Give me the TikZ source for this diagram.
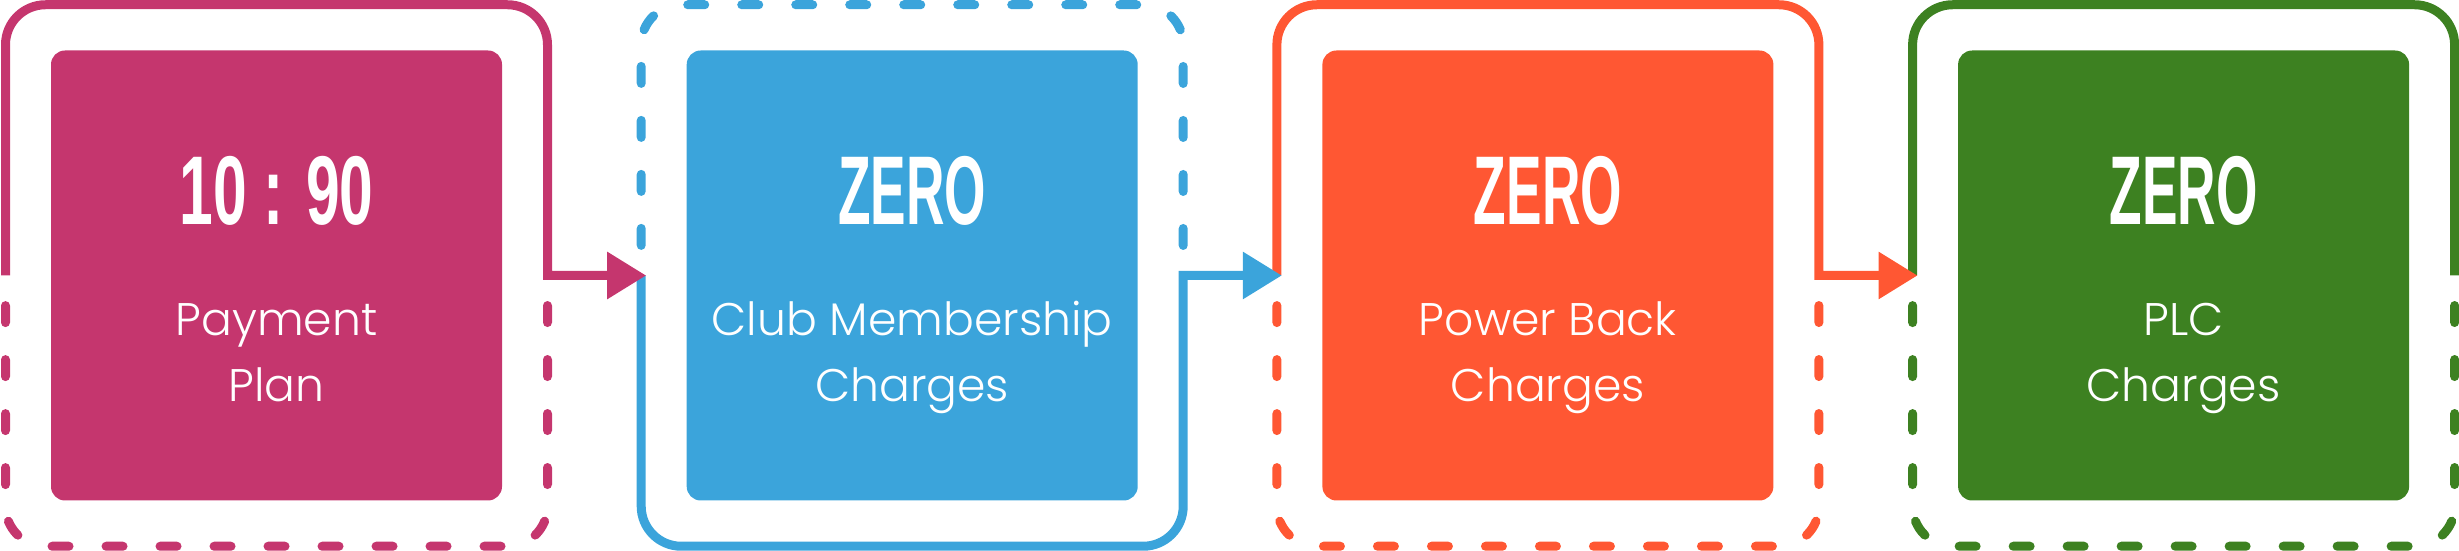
\documentclass[tikz,border=0pt]{standalone}
\usepackage{fontspec}
\usepackage{graphicx}
\usetikzlibrary{arrows.meta,positioning}
\setmainfont{Poppins Light}
\newfontfamily\headfont{Liberation Sans}
\definecolor{pinkc}{HTML}{C5366E}
\definecolor{bluec}{HTML}{3BA4DB}
\definecolor{orangec}{HTML}{FF5733}
\definecolor{greenc}{HTML}{3D8121}
\newcommand{\headword}[2][0.545]{\scalebox{#1}[1]{#2}}
\tikzset{
  frame/.style    ={rectangle,minimum width=54.2mm,minimum height=54.15mm,
                    inner sep=0pt,outer sep=0pt},
  panel/.style    ={rectangle,rounded corners=1.4mm,minimum width=45.1mm,
                    minimum height=45mm,inner sep=0pt},
  solidline/.style={line width=0.9mm,rounded corners=4mm},
  dashline/.style ={line width=0.9mm,rounded corners=4mm,line cap=round,
                    dash pattern=on 1.7mm off 3.7mm,dash phase=2.39mm},
  flow/.style     ={-{Triangle[length=3.9mm,width=4.5mm]}},
  head/.style     ={font=\headfont\bfseries\fontsize{27.8}{30}\selectfont,
                    text=white,anchor=base,inner sep=0pt},
  sub/.style      ={font=\fontsize{13}{16}\selectfont,text=white,
                    anchor=base,inner sep=0pt},
}

\begin{document}
\begin{tikzpicture}[x=0.1mm,y=0.1mm]
  \useasboundingbox (0,0) rectangle (2459,551);

  % outer frames (only used for their anchors)
  \node[frame] (f1) at (276.5,275.5) {};
  \node[frame] (f2) at (912.2,275.5) {};
  \node[frame] (f3) at (1547.9,275.5) {};
  \node[frame] (f4) at (2183.6,275.5) {};

  % coloured panels
  \node[panel,fill=pinkc]   (p1) at (f1.center) {};
  \node[panel,fill=bluec]   (p2) at (f2.center) {};
  \node[panel,fill=orangec] (p3) at (f3.center) {};
  \node[panel,fill=greenc]  (p4) at (f4.center) {};

  % texts
  \node[head] (h1) at ([yshift=5.05mm]p1.center) {\headword[0.62]{10 : 90}};
  \node[sub]  (a1) at ([yshift=-6.05mm]p1.center) {Payment};
  \node[sub]  (b1) at ([yshift=-12.65mm]p1.center) {Plan};

  \node[head] (h2) at ([yshift=5.05mm]p2.center) {\headword{ZERO}};
  \node[sub]  (a2) at ([yshift=-6.05mm]p2.center) {Club Membership};
  \node[sub]  (b2) at ([yshift=-12.65mm]p2.center) {Charges};

  \node[head] (h3) at ([yshift=5.05mm]p3.center) {\headword{ZERO}};
  \node[sub]  (a3) at ([yshift=-6.05mm]p3.center) {Power Back};
  \node[sub]  (b3) at ([yshift=-12.65mm]p3.center) {Charges};

  \node[head] (h4) at ([yshift=5.05mm]p4.center) {\headword{ZERO}};
  \node[sub]  (a4) at ([yshift=-6.05mm]p4.center) {PLC};
  \node[sub]  (b4) at ([yshift=-12.65mm]p4.center) {Charges};

  % dashed halves
  \draw[dashline,pinkc]   (f1.west) -- (f1.south west) -- (f1.south east) -- (f1.east);
  \draw[dashline,bluec]   (f2.west) -- (f2.north west) -- (f2.north east) -- (f2.east);
  \draw[dashline,orangec] (f3.west) -- (f3.south west) -- (f3.south east) -- (f3.east);
  \draw[dashline,greenc]  (f4.west) -- (f4.south west) -- (f4.south east) -- (f4.east);

  % solid halves with arrows
  \draw[solidline,greenc] (f4.west) -- (f4.north west) -- (f4.north east) -- (f4.east);
  \draw[solidline,orangec,flow] (f3.west) -- (f3.north west) -- (f3.north east)
    [sharp corners] -- (f3.east) -- ([xshift=0.5mm]f4.west);
  \draw[solidline,bluec,flow] (f2.west) -- (f2.south west) -- (f2.south east)
    [sharp corners] -- (f2.east) -- ([xshift=0.5mm]f3.west);
  \draw[solidline,pinkc,flow] (f1.west) -- (f1.north west) -- (f1.north east)
    [sharp corners] -- (f1.east) -- ([xshift=0.5mm]f2.west);
\end{tikzpicture}
\end{document}
